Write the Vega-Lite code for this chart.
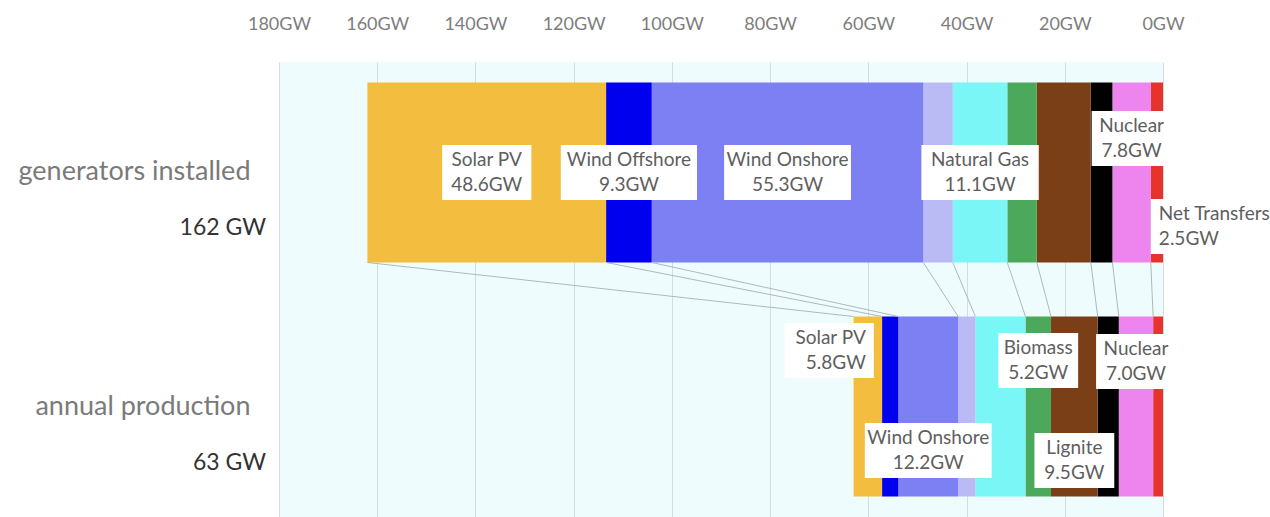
{
  "$schema": "https://vega.github.io/schema/vega-lite/v6.json",
  "width": 884,
  "height": 455,
  "autosize": {"type": "none"},
  "padding": {"left": 279, "top": 62, "right": 107, "bottom": 0},
  "background": "white",
  "config": {
    "font": "Lato",
    "view": {"fill": "#effcfd", "stroke": null}
  },
  "data": {
    "values": [
      {"row": "generators installed", "source": "Net Transfers", "gw": 2.5},
      {"row": "generators installed", "source": "Nuclear", "gw": 7.8},
      {"row": "generators installed", "source": "Hard Coal", "gw": 4.4},
      {"row": "generators installed", "source": "Lignite", "gw": 11.0},
      {"row": "generators installed", "source": "Biomass", "gw": 6.0},
      {"row": "generators installed", "source": "Natural Gas", "gw": 11.1},
      {"row": "generators installed", "source": "Hydro Power", "gw": 6.0},
      {"row": "generators installed", "source": "Wind Onshore", "gw": 55.3},
      {"row": "generators installed", "source": "Wind Offshore", "gw": 9.3},
      {"row": "generators installed", "source": "Solar PV", "gw": 48.6},
      {"row": "annual production", "source": "Net Transfers", "gw": 2.0},
      {"row": "annual production", "source": "Nuclear", "gw": 7.0},
      {"row": "annual production", "source": "Hard Coal", "gw": 4.3},
      {"row": "annual production", "source": "Lignite", "gw": 9.5},
      {"row": "annual production", "source": "Biomass", "gw": 5.2},
      {"row": "annual production", "source": "Natural Gas", "gw": 10.2},
      {"row": "annual production", "source": "Hydro Power", "gw": 3.5},
      {"row": "annual production", "source": "Wind Onshore", "gw": 12.2},
      {"row": "annual production", "source": "Wind Offshore", "gw": 3.3},
      {"row": "annual production", "source": "Solar PV", "gw": 5.8}
    ]
  },
  "transform": [
    {"stack": "gw", "groupby": ["row"], "as": ["lo", "hi"]}
  ],
  "layer": [
    {
      "mark": {"type": "rect"},
      "encoding": {
        "x": {
          "field": "lo",
          "type": "quantitative",
          "title": null,
          "scale": {"domain": [0, 180], "reverse": true, "nice": false},
          "axis": {
            "orient": "top",
            "values": [0, 20, 40, 60, 80, 100, 120, 140, 160, 180],
            "labelExpr": "datum.value + 'GW'",
            "labelFlush": false,
            "grid": true,
            "gridColor": "#d3dddd",
            "gridWidth": 1,
            "domain": false,
            "ticks": false,
            "labelPadding": 29,
            "labelFontSize": 18,
            "labelColor": "#7d7d7d",
            "labelFont": "Lato"
          }
        },
        "x2": {"field": "hi"},
        "y": {
          "field": "row",
          "type": "nominal",
          "title": null,
          "sort": ["generators installed", "annual production"],
          "scale": {"paddingInner": 0.2308, "paddingOuter": 0.0875},
          "axis": {
            "domain": false,
            "ticks": false,
            "labelPadding": 29,
            "labelFontSize": 27,
            "labelColor": "#7a7a7a",
            "labelFont": "Lato",
            "labelLimit": 300
          }
        },
        "color": {
          "field": "source",
          "type": "nominal",
          "legend": null,
          "scale": {
            "domain": ["Net Transfers", "Nuclear", "Hard Coal", "Lignite", "Biomass", "Natural Gas", "Hydro Power", "Wind Onshore", "Wind Offshore", "Solar PV"],
            "range": ["#e8322c", "#ee84ee", "#000000", "#7a3f17", "#4ca85a", "#7bf6f6", "#babbf5", "#7c80f2", "#0000ee", "#f3be40"]
          }
        }
      }
    },
    {
      "transform": [
        {"pivot": "row", "value": "hi", "groupby": ["source"]}
      ],
      "mark": {"type": "rule", "color": "#aeb8b8", "strokeWidth": 1},
      "encoding": {
        "x": {"field": "generators installed", "type": "quantitative", "title": null},
        "x2": {"field": "annual production"},
        "y": {"datum": "generators installed", "type": "nominal", "bandPosition": 1},
        "y2": {"datum": "annual production", "bandPosition": 0}
      }
    },
    {
      "transform": [
        {"filter": "indexof(['generators installed|Solar PV', 'generators installed|Wind Offshore', 'generators installed|Wind Onshore', 'generators installed|Natural Gas', 'generators installed|Nuclear', 'generators installed|Net Transfers', 'annual production|Solar PV', 'annual production|Wind Onshore', 'annual production|Biomass', 'annual production|Lignite', 'annual production|Nuclear'], datum.row + '|' + datum.source) >= 0"},
        {"calculate": "(datum.lo + datum.hi) / 2", "as": "mid"},
        {"calculate": "[datum.source, format(datum.gw, '.1f') + 'GW']", "as": "lines"}
      ],
      "layer": [
        {
          "mark": {
            "type": "rule",
            "color": "white",
            "strokeWidth": 55,
            "strokeCap": "butt",
            "xOffset": {"expr": "(datum.row == 'generators installed' && datum.source == 'Net Transfers') ? -6 : (datum.row == 'annual production' && datum.source == 'Solar PV') ? 6 - (9.4 * max(length(datum.source), 6) + 14) : -(9.4 * max(length(datum.source), 6) + 14) / 2"},
            "x2Offset": {"expr": "(datum.row == 'generators installed' && datum.source == 'Net Transfers') ? -6 + (9.4 * max(length(datum.source), 6) + 14) : (datum.row == 'annual production' && datum.source == 'Solar PV') ? 6 : (9.4 * max(length(datum.source), 6) + 14) / 2"},
            "yOffset": {"expr": "datum.row == 'generators installed' ? (datum.source == 'Nuclear' ? -34 : datum.source == 'Net Transfers' ? 54 : 0) : (datum.source == 'Solar PV' ? -56 : datum.source == 'Wind Onshore' ? 44 : datum.source == 'Biomass' ? -46 : datum.source == 'Lignite' ? 54 : -45)"}
          },
          "encoding": {
            "x": {"field": "mid", "type": "quantitative", "title": null},
            "x2": {"field": "mid"},
            "y": {"field": "row", "type": "nominal", "title": null, "sort": ["generators installed", "annual production"]}
          }
        },
        {
          "mark": {
            "type": "text",
            "font": "Lato",
            "fontSize": 19,
            "lineHeight": 25,
            "color": "#5e5e5e",
            "baseline": "middle",
            "align": {"expr": "(datum.row == 'generators installed' && datum.source == 'Net Transfers') ? 'left' : (datum.row == 'annual production' && datum.source == 'Solar PV') ? 'right' : 'center'"},
            "dx": {"expr": "(datum.row == 'generators installed' && datum.source == 'Net Transfers') ? 2 : (datum.row == 'annual production' && datum.source == 'Solar PV') ? -2 : 0"},
            "dy": {"expr": "-12.5 + (datum.row == 'generators installed' ? (datum.source == 'Nuclear' ? -34 : datum.source == 'Net Transfers' ? 54 : 0) : (datum.source == 'Solar PV' ? -56 : datum.source == 'Wind Onshore' ? 44 : datum.source == 'Biomass' ? -46 : datum.source == 'Lignite' ? 54 : -45))"}
          },
          "encoding": {
            "x": {"field": "mid", "type": "quantitative", "title": null},
            "y": {"field": "row", "type": "nominal", "title": null, "sort": ["generators installed", "annual production"]},
            "text": {"field": "lines"}
          }
        }
      ]
    },
    {
      "transform": [
        {"aggregate": [{"op": "sum", "field": "gw", "as": "total"}], "groupby": ["row"]},
        {"calculate": "format(datum.total, '.0f') + ' GW'", "as": "label"}
      ],
      "mark": {
        "type": "text",
        "font": "Lato",
        "fontSize": 23,
        "color": "#333333",
        "align": "right",
        "baseline": "middle",
        "dx": -13,
        "dy": 56
      },
      "encoding": {
        "x": {"datum": 180, "type": "quantitative"},
        "y": {"field": "row", "type": "nominal", "title": null, "sort": ["generators installed", "annual production"]},
        "text": {"field": "label"}
      }
    }
  ]
}
